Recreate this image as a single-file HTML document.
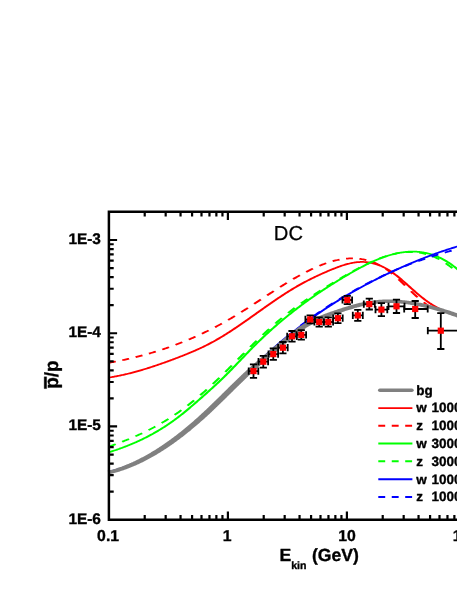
<!DOCTYPE html>
<html><head><meta charset="utf-8"><title>DC</title>
<style>html,body{margin:0;padding:0;background:#fff;}body{width:457px;height:591px;overflow:hidden;font-family:"Liberation Sans",sans-serif;}svg text{font-family:"Liberation Sans",sans-serif;}</style>
</head><body>
<svg width="457" height="591" viewBox="0 0 457 591" style="display:block;will-change:transform">
<rect width="457" height="591" fill="#fff"/>
<g fill="none" stroke-linejoin="round" stroke-width="1.75" transform="scale(1.4 1)">
<path d="M77.786 377.52 L78.432 377.38 L79.079 377.23 L79.725 377.09 L80.371 376.93 L81.018 376.78 L81.664 376.62 L82.311 376.45 L82.957 376.28 L83.604 376.11 L84.250 375.94 L84.897 375.76 L85.543 375.57 L86.189 375.38 L86.836 375.19 L87.482 375.00 L88.129 374.80 L88.775 374.59 L89.422 374.39 L90.068 374.18 L90.714 373.96 L91.361 373.74 L92.007 373.52 L92.654 373.30 L93.300 373.07 L93.947 372.84 L94.593 372.61 L95.240 372.37 L95.886 372.13 L96.532 371.89 L97.179 371.64 L97.825 371.39 L98.472 371.14 L99.118 370.88 L99.765 370.62 L100.411 370.36 L101.057 370.09 L101.704 369.83 L102.350 369.56 L102.997 369.28 L103.643 369.01 L104.290 368.73 L104.936 368.45 L105.583 368.16 L106.229 367.88 L106.875 367.59 L107.522 367.30 L108.168 367.01 L108.815 366.71 L109.461 366.41 L110.108 366.11 L110.754 365.81 L111.400 365.50 L112.047 365.20 L112.693 364.89 L113.340 364.58 L113.986 364.27 L114.633 363.95 L115.279 363.63 L115.926 363.31 L116.572 362.99 L117.218 362.67 L117.865 362.35 L118.511 362.02 L119.158 361.69 L119.804 361.36 L120.451 361.03 L121.097 360.70 L121.743 360.37 L122.390 360.03 L123.036 359.70 L123.683 359.36 L124.329 359.02 L124.976 358.68 L125.622 358.34 L126.269 357.99 L126.915 357.65 L127.561 357.30 L128.208 356.95 L128.854 356.60 L129.501 356.25 L130.147 355.90 L130.794 355.54 L131.440 355.18 L132.086 354.82 L132.733 354.46 L133.379 354.09 L134.026 353.73 L134.672 353.35 L135.319 352.98 L135.965 352.60 L136.612 352.22 L137.258 351.84 L137.904 351.45 L138.551 351.06 L139.197 350.67 L139.844 350.27 L140.490 349.86 L141.137 349.46 L141.783 349.05 L142.429 348.63 L143.076 348.21 L143.722 347.79 L144.369 347.36 L145.015 346.93 L145.662 346.49 L146.308 346.05 L146.955 345.60 L147.601 345.15 L148.247 344.69 L148.894 344.23 L149.540 343.76 L150.187 343.29 L150.833 342.81 L151.480 342.32 L152.126 341.83 L152.772 341.33 L153.419 340.83 L154.065 340.32 L154.712 339.81 L155.358 339.29 L156.005 338.76 L156.651 338.23 L157.298 337.69 L157.944 337.15 L158.590 336.60 L159.237 336.05 L159.883 335.49 L160.530 334.93 L161.176 334.37 L161.823 333.80 L162.469 333.22 L163.115 332.65 L163.762 332.06 L164.408 331.48 L165.055 330.89 L165.701 330.30 L166.348 329.70 L166.994 329.10 L167.641 328.50 L168.287 327.89 L168.933 327.28 L169.580 326.67 L170.226 326.06 L170.873 325.44 L171.519 324.82 L172.166 324.20 L172.812 323.57 L173.458 322.95 L174.105 322.32 L174.751 321.69 L175.398 321.06 L176.044 320.42 L176.691 319.79 L177.337 319.15 L177.984 318.51 L178.630 317.88 L179.276 317.24 L179.923 316.60 L180.569 315.95 L181.216 315.31 L181.862 314.67 L182.509 314.03 L183.155 313.39 L183.801 312.74 L184.448 312.10 L185.094 311.46 L185.741 310.82 L186.387 310.18 L187.034 309.53 L187.680 308.89 L188.327 308.25 L188.973 307.62 L189.619 306.98 L190.266 306.34 L190.912 305.71 L191.559 305.07 L192.205 304.44 L192.852 303.81 L193.498 303.18 L194.144 302.55 L194.791 301.93 L195.437 301.31 L196.084 300.69 L196.730 300.07 L197.377 299.45 L198.023 298.84 L198.670 298.23 L199.316 297.62 L199.962 297.02 L200.609 296.42 L201.255 295.82 L201.902 295.23 L202.548 294.64 L203.195 294.05 L203.841 293.47 L204.487 292.89 L205.134 292.31 L205.780 291.74 L206.427 291.18 L207.073 290.62 L207.720 290.06 L208.366 289.50 L209.013 288.96 L209.659 288.41 L210.305 287.88 L210.952 287.34 L211.598 286.82 L212.245 286.29 L212.891 285.78 L213.538 285.26 L214.184 284.75 L214.830 284.25 L215.477 283.75 L216.123 283.26 L216.770 282.77 L217.416 282.29 L218.063 281.81 L218.709 281.33 L219.356 280.86 L220.002 280.39 L220.648 279.93 L221.295 279.47 L221.941 279.02 L222.588 278.57 L223.234 278.13 L223.881 277.68 L224.527 277.25 L225.173 276.81 L225.820 276.38 L226.466 275.96 L227.113 275.53 L227.759 275.11 L228.406 274.70 L229.052 274.29 L229.699 273.88 L230.345 273.47 L230.991 273.07 L231.638 272.67 L232.284 272.28 L232.931 271.89 L233.577 271.50 L234.224 271.11 L234.870 270.73 L235.516 270.35 L236.163 269.98 L236.809 269.60 L237.456 269.23 L238.102 268.87 L238.749 268.50 L239.395 268.15 L240.042 267.80 L240.688 267.45 L241.334 267.11 L241.981 266.78 L242.627 266.46 L243.274 266.14 L243.920 265.83 L244.567 265.53 L245.213 265.24 L245.859 264.95 L246.506 264.68 L247.152 264.42 L247.799 264.17 L248.445 263.93 L249.092 263.70 L249.738 263.48 L250.385 263.28 L251.031 263.08 L251.677 262.91 L252.324 262.74 L252.970 262.59 L253.617 262.46 L254.263 262.33 L254.910 262.23 L255.556 262.14 L256.202 262.07 L256.849 262.01 L257.495 261.98 L258.142 261.95 L258.788 261.95 L259.435 261.97 L260.081 262.00 L260.728 262.05 L261.374 262.12 L262.020 262.21 L262.667 262.31 L263.313 262.43 L263.960 262.57 L264.606 262.73 L265.253 262.91 L265.899 263.11 L266.545 263.33 L267.192 263.56 L267.838 263.81 L268.485 264.09 L269.131 264.38 L269.778 264.69 L270.424 265.02 L271.071 265.37 L271.717 265.74 L272.363 266.12 L273.010 266.53 L273.656 266.96 L274.303 267.40 L274.949 267.87 L275.596 268.36 L276.242 268.86 L276.888 269.39 L277.535 269.94 L278.181 270.50 L278.828 271.09 L279.474 271.70 L280.121 272.32 L280.767 272.97 L281.414 273.63 L282.060 274.31 L282.706 275.00 L283.353 275.71 L283.999 276.43 L284.646 277.16 L285.292 277.90 L285.939 278.66 L286.585 279.42 L287.231 280.19 L287.878 280.98 L288.524 281.76 L289.171 282.56 L289.817 283.35 L290.464 284.16 L291.110 284.96 L291.757 285.77 L292.403 286.58 L293.049 287.38 L293.696 288.19 L294.342 289.00 L294.989 289.80 L295.635 290.60 L296.282 291.39 L296.928 292.18 L297.574 292.97 L298.221 293.74 L298.867 294.51 L299.514 295.27 L300.160 296.01 L300.807 296.75 L301.453 297.48 L302.100 298.19 L302.746 298.89 L303.392 299.58 L304.039 300.26 L304.685 300.92 L305.332 301.57 L305.978 302.20 L306.625 302.82 L307.271 303.41 L307.917 304.00 L308.564 304.57 L309.210 305.12 L309.857 305.66 L310.503 306.19 L311.150 306.70 L311.796 307.20 L312.443 307.70 L313.089 308.21 L313.735 308.72 L314.382 309.22 L315.028 309.69 L315.675 310.12 L316.321 310.51 L316.968 310.86 L317.614 311.19 L318.260 311.49 L318.907 311.78 L319.553 312.06 L320.200 312.35 L320.846 312.65 L321.493 312.95 L322.139 313.25 L322.786 313.56 L323.432 313.86 L324.078 314.17 L324.725 314.49 L325.371 314.80 L326.018 315.11 L326.664 315.43 L327.311 315.75 L327.957 316.07 L328.603 316.40 L329.250 316.72 L329.896 317.05 L330.543 317.38 L331.189 317.71 L331.836 318.04 L332.482 318.37 L333.129 318.71 L333.775 319.04 L334.421 319.38 L335.068 319.72 L335.714 320.06" stroke="#ff0000"/>
<path d="M77.786 362.80 L78.488 362.62 L79.190 362.45 L79.893 362.27 L80.595 362.09 L81.297 361.90 L81.999 361.72 L82.701 361.53M87.329 360.22 L88.030 360.01 L88.732 359.80 L89.433 359.59 L90.135 359.37 L90.836 359.16 L91.537 358.94 L92.238 358.71M96.860 357.17 L97.561 356.92 L98.261 356.68 L98.962 356.43 L99.662 356.17 L100.363 355.92 L101.063 355.66 L101.763 355.40M106.377 353.60 L107.077 353.32 L107.776 353.04 L108.475 352.75 L109.174 352.45 L109.873 352.16 L110.572 351.86 L111.271 351.56M115.877 349.50 L116.575 349.18 L117.272 348.85 L117.970 348.52 L118.668 348.19 L119.365 347.85 L120.063 347.51 L120.760 347.17M125.354 344.83 L126.051 344.47 L126.747 344.10 L127.443 343.72 L128.139 343.35 L128.834 342.97 L129.530 342.59 L130.225 342.20M134.807 339.57 L135.501 339.16 L136.195 338.75 L136.889 338.33 L137.583 337.91 L138.276 337.48 L138.970 337.05 L139.663 336.62M144.230 333.69 L144.922 333.24 L145.613 332.77 L146.305 332.31 L146.996 331.84 L147.687 331.37 L148.378 330.90 L149.069 330.42M153.618 327.17 L154.307 326.67 L154.996 326.16 L155.685 325.65 L156.373 325.13 L157.061 324.61 L157.749 324.09 L158.437 323.56M162.967 320.00 L163.653 319.44 L164.339 318.88 L165.024 318.32 L165.710 317.76 L166.395 317.19 L167.079 316.61 L167.764 316.04M172.273 312.16 L172.956 311.56 L173.638 310.96 L174.321 310.36 L175.004 309.75 L175.686 309.14 L176.368 308.53 L177.050 307.92M181.545 303.85 L182.227 303.23 L182.908 302.61 L183.589 301.99 L184.270 301.37 L184.951 300.74 L185.633 300.12 L186.314 299.49M190.805 295.38 L191.487 294.76 L192.168 294.14 L192.849 293.52 L193.531 292.90 L194.212 292.28 L194.894 291.66 L195.576 291.05M200.075 287.03 L200.758 286.43 L201.441 285.83 L202.124 285.24 L202.807 284.64 L203.491 284.05 L204.175 283.46 L204.858 282.88M209.375 279.11 L210.060 278.55 L210.746 278.00 L211.433 277.45 L212.120 276.90 L212.806 276.36 L213.494 275.83 L214.181 275.30M218.723 271.92 L219.413 271.43 L220.103 270.95 L220.794 270.47 L221.485 270.00 L222.176 269.53 L222.868 269.07 L223.560 268.62M228.133 265.81 L228.828 265.41 L229.523 265.02 L230.219 264.64 L230.915 264.27 L231.611 263.91 L232.308 263.56 L233.005 263.22M237.613 261.21 L238.313 260.94 L239.013 260.69 L239.714 260.45 L240.415 260.22 L241.116 260.01 L241.818 259.80 L242.520 259.61M247.155 258.69 L247.858 258.60 L248.562 258.52 L249.266 258.47 L249.970 258.42 L250.674 258.39 L251.378 258.38 L252.082 258.38M256.723 258.81 L257.426 258.94 L258.129 259.08 L258.832 259.25 L259.534 259.43 L260.236 259.63 L260.937 259.84 L261.638 260.08M266.244 262.10 L266.940 262.48 L267.635 262.88 L268.329 263.29 L269.021 263.73 L269.713 264.19 L270.404 264.66 L271.094 265.16M275.609 268.93 L276.289 269.58 L276.966 270.25 L277.642 270.94 L278.317 271.64 L278.989 272.37 L279.660 273.12 L280.330 273.88M284.709 279.28 L285.368 280.14 L286.027 281.01 L286.686 281.89 L287.343 282.77 L288.000 283.65 L288.657 284.54 L289.314 285.43M293.643 291.30 L294.301 292.17 L294.960 293.04 L295.619 293.91 L296.280 294.76 L296.941 295.61 L297.604 296.44 L298.267 297.27M302.680 302.32 L303.354 303.03 L304.026 303.76 L304.699 304.48 L305.376 305.16 L306.057 305.79 L306.743 306.34 L307.433 306.83M312.038 308.85 L312.738 309.12 L313.437 309.41 L314.137 309.70 L314.836 309.99 L315.535 310.29 L316.233 310.59 L316.932 310.89M321.537 312.97 L322.235 313.30 L322.932 313.63 L323.630 313.96 L324.328 314.29 L325.025 314.63 L325.722 314.97 L326.420 315.31M331.016 317.62 L331.687 317.96 L332.358 318.31 L333.030 318.66 L333.701 319.00 L334.372 319.35 L335.043 319.71 L335.714 320.06" stroke="#ff0000"/>
<path d="M77.786 452.28 L78.432 452.00 L79.079 451.71 L79.725 451.42 L80.371 451.13 L81.018 450.83 L81.664 450.53 L82.311 450.23 L82.957 449.92 L83.604 449.61 L84.250 449.29 L84.897 448.98 L85.543 448.65 L86.189 448.33 L86.836 448.00 L87.482 447.66 L88.129 447.33 L88.775 446.99 L89.422 446.64 L90.068 446.29 L90.714 445.94 L91.361 445.58 L92.007 445.21 L92.654 444.85 L93.300 444.48 L93.947 444.10 L94.593 443.72 L95.240 443.33 L95.886 442.94 L96.532 442.55 L97.179 442.15 L97.825 441.75 L98.472 441.34 L99.118 440.92 L99.765 440.50 L100.411 440.08 L101.057 439.65 L101.704 439.21 L102.350 438.77 L102.997 438.33 L103.643 437.88 L104.290 437.42 L104.936 436.96 L105.583 436.49 L106.229 436.02 L106.875 435.54 L107.522 435.06 L108.168 434.57 L108.815 434.07 L109.461 433.57 L110.108 433.06 L110.754 432.55 L111.400 432.03 L112.047 431.50 L112.693 430.97 L113.340 430.43 L113.986 429.89 L114.633 429.34 L115.279 428.78 L115.926 428.21 L116.572 427.64 L117.218 427.07 L117.865 426.48 L118.511 425.89 L119.158 425.29 L119.804 424.69 L120.451 424.08 L121.097 423.46 L121.743 422.84 L122.390 422.20 L123.036 421.56 L123.683 420.92 L124.329 420.26 L124.976 419.60 L125.622 418.93 L126.269 418.26 L126.915 417.58 L127.561 416.88 L128.208 416.19 L128.854 415.48 L129.501 414.77 L130.147 414.05 L130.794 413.32 L131.440 412.59 L132.086 411.85 L132.733 411.11 L133.379 410.36 L134.026 409.60 L134.672 408.84 L135.319 408.08 L135.965 407.31 L136.612 406.54 L137.258 405.76 L137.904 404.99 L138.551 404.20 L139.197 403.42 L139.844 402.63 L140.490 401.84 L141.137 401.05 L141.783 400.26 L142.429 399.47 L143.076 398.67 L143.722 397.88 L144.369 397.08 L145.015 396.28 L145.662 395.48 L146.308 394.68 L146.955 393.88 L147.601 393.08 L148.247 392.27 L148.894 391.46 L149.540 390.65 L150.187 389.83 L150.833 389.02 L151.480 388.20 L152.126 387.37 L152.772 386.54 L153.419 385.71 L154.065 384.88 L154.712 384.04 L155.358 383.19 L156.005 382.35 L156.651 381.49 L157.298 380.63 L157.944 379.77 L158.590 378.90 L159.237 378.03 L159.883 377.15 L160.530 376.26 L161.176 375.37 L161.823 374.48 L162.469 373.57 L163.115 372.66 L163.762 371.75 L164.408 370.83 L165.055 369.90 L165.701 368.97 L166.348 368.04 L166.994 367.10 L167.641 366.16 L168.287 365.22 L168.933 364.28 L169.580 363.33 L170.226 362.38 L170.873 361.43 L171.519 360.48 L172.166 359.54 L172.812 358.59 L173.458 357.64 L174.105 356.69 L174.751 355.74 L175.398 354.80 L176.044 353.86 L176.691 352.92 L177.337 351.98 L177.984 351.05 L178.630 350.12 L179.276 349.19 L179.923 348.27 L180.569 347.36 L181.216 346.45 L181.862 345.54 L182.509 344.64 L183.155 343.75 L183.801 342.86 L184.448 341.98 L185.094 341.10 L185.741 340.22 L186.387 339.36 L187.034 338.49 L187.680 337.63 L188.327 336.78 L188.973 335.93 L189.619 335.09 L190.266 334.25 L190.912 333.41 L191.559 332.59 L192.205 331.76 L192.852 330.94 L193.498 330.13 L194.144 329.32 L194.791 328.51 L195.437 327.71 L196.084 326.91 L196.730 326.12 L197.377 325.33 L198.023 324.55 L198.670 323.77 L199.316 323.00 L199.962 322.23 L200.609 321.47 L201.255 320.70 L201.902 319.95 L202.548 319.20 L203.195 318.45 L203.841 317.70 L204.487 316.96 L205.134 316.23 L205.780 315.50 L206.427 314.77 L207.073 314.05 L207.720 313.33 L208.366 312.61 L209.013 311.90 L209.659 311.19 L210.305 310.49 L210.952 309.79 L211.598 309.10 L212.245 308.40 L212.891 307.72 L213.538 307.03 L214.184 306.35 L214.830 305.67 L215.477 305.00 L216.123 304.33 L216.770 303.66 L217.416 303.00 L218.063 302.34 L218.709 301.69 L219.356 301.03 L220.002 300.39 L220.648 299.74 L221.295 299.10 L221.941 298.46 L222.588 297.82 L223.234 297.19 L223.881 296.56 L224.527 295.94 L225.173 295.31 L225.820 294.69 L226.466 294.08 L227.113 293.46 L227.759 292.85 L228.406 292.25 L229.052 291.64 L229.699 291.04 L230.345 290.44 L230.991 289.85 L231.638 289.25 L232.284 288.66 L232.931 288.08 L233.577 287.49 L234.224 286.91 L234.870 286.33 L235.516 285.75 L236.163 285.18 L236.809 284.61 L237.456 284.04 L238.102 283.47 L238.749 282.91 L239.395 282.35 L240.042 281.79 L240.688 281.23 L241.334 280.68 L241.981 280.13 L242.627 279.58 L243.274 279.03 L243.920 278.48 L244.567 277.94 L245.213 277.40 L245.859 276.86 L246.506 276.33 L247.152 275.79 L247.799 275.26 L248.445 274.73 L249.092 274.20 L249.738 273.68 L250.385 273.16 L251.031 272.64 L251.677 272.12 L252.324 271.61 L252.970 271.10 L253.617 270.59 L254.263 270.09 L254.910 269.59 L255.556 269.10 L256.202 268.61 L256.849 268.12 L257.495 267.64 L258.142 267.16 L258.788 266.69 L259.435 266.22 L260.081 265.75 L260.728 265.29 L261.374 264.84 L262.020 264.39 L262.667 263.95 L263.313 263.51 L263.960 263.08 L264.606 262.65 L265.253 262.23 L265.899 261.82 L266.545 261.41 L267.192 261.00 L267.838 260.61 L268.485 260.22 L269.131 259.84 L269.778 259.46 L270.424 259.09 L271.071 258.73 L271.717 258.38 L272.363 258.03 L273.010 257.69 L273.656 257.36 L274.303 257.04 L274.949 256.72 L275.596 256.41 L276.242 256.11 L276.888 255.82 L277.535 255.54 L278.181 255.26 L278.828 255.00 L279.474 254.74 L280.121 254.49 L280.767 254.25 L281.414 254.03 L282.060 253.81 L282.706 253.60 L283.353 253.39 L283.999 253.20 L284.646 253.02 L285.292 252.85 L285.939 252.69 L286.585 252.54 L287.231 252.40 L287.878 252.27 L288.524 252.16 L289.171 252.05 L289.817 251.95 L290.464 251.87 L291.110 251.79 L291.757 251.73 L292.403 251.68 L293.049 251.64 L293.696 251.61 L294.342 251.60 L294.989 251.60 L295.635 251.61 L296.282 251.63 L296.928 251.66 L297.574 251.71 L298.221 251.77 L298.867 251.84 L299.514 251.93 L300.160 252.03 L300.807 252.14 L301.453 252.27 L302.100 252.41 L302.746 252.56 L303.392 252.73 L304.039 252.91 L304.685 253.10 L305.332 253.31 L305.978 253.54 L306.625 253.78 L307.271 254.03 L307.917 254.30 L308.564 254.58 L309.210 254.88 L309.857 255.19 L310.503 255.52 L311.150 255.87 L311.796 256.23 L312.443 256.60 L313.089 257.00 L313.735 257.40 L314.382 257.83 L315.028 258.27 L315.675 258.73 L316.321 259.20 L316.968 259.69 L317.614 260.20 L318.260 260.72 L318.907 261.27 L319.553 261.82 L320.200 262.40 L320.846 262.99 L321.493 263.61 L322.139 264.24 L322.786 264.88 L323.432 265.55 L324.078 266.23 L324.725 266.94 L325.371 267.66 L326.018 268.40 L326.664 269.15 L327.311 269.93 L327.957 270.73 L328.603 271.54 L329.250 272.38 L329.896 273.23 L330.543 274.11 L331.189 275.00 L331.836 275.91 L332.482 276.85 L333.129 277.80 L333.775 278.77 L334.421 279.77 L335.068 280.78 L335.714 281.82" stroke="#00ff00"/>
<path d="M77.786 446.61 L78.483 446.27 L79.180 445.92 L79.877 445.58 L80.575 445.23 L81.271 444.88 L81.968 444.53 L82.665 444.17M87.256 441.76 L87.952 441.38 L88.648 441.00 L89.343 440.61 L90.038 440.22 L90.733 439.83 L91.428 439.44 L92.123 439.04M96.700 436.31 L97.393 435.88 L98.087 435.45 L98.779 435.01 L99.472 434.57 L100.165 434.12 L100.857 433.67 L101.549 433.22M106.106 430.11 L106.796 429.61 L107.485 429.12 L108.175 428.62 L108.864 428.11 L109.553 427.60 L110.241 427.09 L110.929 426.57M115.459 423.00 L116.145 422.44 L116.830 421.87 L117.515 421.30 L118.199 420.72 L118.883 420.14 L119.566 419.54 L120.250 418.95M124.743 414.86 L125.423 414.22 L126.102 413.57 L126.781 412.92 L127.459 412.26 L128.137 411.59 L128.814 410.91 L129.491 410.23M133.940 405.59 L134.613 404.87 L135.286 404.13 L135.957 403.40 L136.629 402.65 L137.299 401.90 L137.969 401.15 L138.639 400.39M143.042 395.23 L143.708 394.43 L144.374 393.63 L145.038 392.82 L145.703 392.00 L146.367 391.18 L147.030 390.35 L147.693 389.52M152.053 383.94 L152.713 383.08 L153.372 382.21 L154.031 381.34 L154.689 380.47 L155.347 379.59 L156.005 378.71 L156.662 377.83M160.988 371.93 L161.643 371.02 L162.297 370.11 L162.951 369.20 L163.605 368.29 L164.259 367.38 L164.913 366.46 L165.566 365.54M169.872 359.46 L170.524 358.54 L171.177 357.61 L171.830 356.69 L172.483 355.76 L173.136 354.84 L173.788 353.92 L174.442 353.00M178.753 346.97 L179.407 346.06 L180.063 345.16 L180.718 344.26 L181.374 343.36 L182.030 342.46 L182.686 341.57 L183.343 340.69M187.683 334.91 L188.342 334.05 L189.002 333.19 L189.663 332.34 L190.324 331.49 L190.985 330.64 L191.647 329.80 L192.309 328.96M196.685 323.54 L197.351 322.73 L198.017 321.93 L198.683 321.14 L199.350 320.35 L200.017 319.56 L200.685 318.78 L201.353 318.00M205.771 313.01 L206.443 312.27 L207.116 311.54 L207.788 310.82 L208.462 310.10 L209.136 309.38 L209.810 308.67 L210.485 307.97M214.947 303.48 L215.625 302.82 L216.304 302.16 L216.983 301.51 L217.662 300.86 L218.341 300.21 L219.021 299.57 L219.701 298.93M224.192 294.80 L224.873 294.19 L225.555 293.57 L226.237 292.96 L226.919 292.35 L227.601 291.74 L228.284 291.13 L228.966 290.52M233.470 286.58 L234.154 285.99 L234.838 285.40 L235.521 284.82 L236.205 284.23 L236.889 283.65 L237.574 283.07 L238.258 282.49M242.774 278.72 L243.460 278.15 L244.145 277.59 L244.831 277.03 L245.516 276.47 L246.202 275.91 L246.888 275.36 L247.574 274.80M252.103 271.22 L252.790 270.69 L253.478 270.16 L254.166 269.63 L254.854 269.11 L255.542 268.59 L256.231 268.08 L256.920 267.57M261.470 264.34 L262.161 263.87 L262.853 263.41 L263.545 262.95 L264.237 262.50 L264.930 262.06 L265.622 261.62 L266.316 261.19M270.896 258.55 L271.593 258.18 L272.289 257.81 L272.986 257.46 L273.683 257.12 L274.381 256.78 L275.079 256.46 L275.777 256.14M280.390 254.32 L281.091 254.09 L281.792 253.87 L282.494 253.65 L283.196 253.46 L283.898 253.27 L284.600 253.09 L285.303 252.93M289.940 252.19 L290.644 252.13 L291.348 252.09 L292.052 252.06 L292.756 252.04 L293.460 252.04 L294.164 252.06 L294.869 252.09M299.508 252.68 L300.211 252.84 L300.913 253.01 L301.615 253.19 L302.317 253.40 L303.018 253.62 L303.719 253.86 L304.419 254.11M309.021 256.26 L309.716 256.65 L310.410 257.07 L311.103 257.50 L311.795 257.95 L312.486 258.42 L313.176 258.91 L313.865 259.42M318.377 263.25 L319.055 263.91 L319.733 264.58 L320.409 265.27 L321.083 265.98 L321.755 266.71 L322.426 267.46 L323.095 268.23M327.459 273.77 L328.113 274.69 L328.765 275.61 L329.415 276.56 L330.062 277.53 L330.708 278.51 L331.351 279.52 L331.992 280.54" stroke="#00ff00"/>
<path d="M77.786 472.01 L78.432 471.77 L79.079 471.52 L79.725 471.27 L80.371 471.01 L81.018 470.75 L81.664 470.48 L82.311 470.20 L82.957 469.92 L83.604 469.64 L84.250 469.35 L84.897 469.05 L85.543 468.75 L86.189 468.45 L86.836 468.14 L87.482 467.82 L88.129 467.50 L88.775 467.17 L89.422 466.83 L90.068 466.49 L90.714 466.15 L91.361 465.80 L92.007 465.44 L92.654 465.08 L93.300 464.71 L93.947 464.34 L94.593 463.96 L95.240 463.57 L95.886 463.18 L96.532 462.79 L97.179 462.39 L97.825 461.98 L98.472 461.57 L99.118 461.15 L99.765 460.72 L100.411 460.29 L101.057 459.85 L101.704 459.41 L102.350 458.96 L102.997 458.51 L103.643 458.05 L104.290 457.58 L104.936 457.11 L105.583 456.63 L106.229 456.15 L106.875 455.66 L107.522 455.16 L108.168 454.66 L108.815 454.15 L109.461 453.64 L110.108 453.12 L110.754 452.59 L111.400 452.06 L112.047 451.52 L112.693 450.98 L113.340 450.43 L113.986 449.87 L114.633 449.31 L115.279 448.74 L115.926 448.16 L116.572 447.58 L117.218 446.99 L117.865 446.40 L118.511 445.79 L119.158 445.19 L119.804 444.57 L120.451 443.95 L121.097 443.33 L121.743 442.70 L122.390 442.06 L123.036 441.41 L123.683 440.76 L124.329 440.10 L124.976 439.44 L125.622 438.77 L126.269 438.09 L126.915 437.40 L127.561 436.71 L128.208 436.02 L128.854 435.31 L129.501 434.60 L130.147 433.88 L130.794 433.16 L131.440 432.43 L132.086 431.70 L132.733 430.96 L133.379 430.21 L134.026 429.46 L134.672 428.70 L135.319 427.94 L135.965 427.17 L136.612 426.40 L137.258 425.62 L137.904 424.84 L138.551 424.05 L139.197 423.26 L139.844 422.46 L140.490 421.66 L141.137 420.85 L141.783 420.04 L142.429 419.23 L143.076 418.41 L143.722 417.58 L144.369 416.76 L145.015 415.93 L145.662 415.09 L146.308 414.25 L146.955 413.41 L147.601 412.57 L148.247 411.72 L148.894 410.87 L149.540 410.01 L150.187 409.16 L150.833 408.30 L151.480 407.43 L152.126 406.57 L152.772 405.70 L153.419 404.83 L154.065 403.96 L154.712 403.08 L155.358 402.21 L156.005 401.33 L156.651 400.45 L157.298 399.56 L157.944 398.68 L158.590 397.79 L159.237 396.91 L159.883 396.02 L160.530 395.13 L161.176 394.24 L161.823 393.35 L162.469 392.45 L163.115 391.56 L163.762 390.67 L164.408 389.77 L165.055 388.88 L165.701 387.98 L166.348 387.09 L166.994 386.19 L167.641 385.29 L168.287 384.40 L168.933 383.50 L169.580 382.61 L170.226 381.71 L170.873 380.82 L171.519 379.93 L172.166 379.03 L172.812 378.14 L173.458 377.25 L174.105 376.36 L174.751 375.47 L175.398 374.58 L176.044 373.70 L176.691 372.81 L177.337 371.93 L177.984 371.04 L178.630 370.16 L179.276 369.29 L179.923 368.41 L180.569 367.54 L181.216 366.66 L181.862 365.80 L182.509 364.93 L183.155 364.06 L183.801 363.20 L184.448 362.34 L185.094 361.49 L185.741 360.63 L186.387 359.78 L187.034 358.93 L187.680 358.09 L188.327 357.24 L188.973 356.41 L189.619 355.57 L190.266 354.74 L190.912 353.91 L191.559 353.08 L192.205 352.26 L192.852 351.44 L193.498 350.63 L194.144 349.82 L194.791 349.01 L195.437 348.21 L196.084 347.41 L196.730 346.62 L197.377 345.82 L198.023 345.04 L198.670 344.26 L199.316 343.48 L199.962 342.71 L200.609 341.94 L201.255 341.18 L201.902 340.42 L202.548 339.66 L203.195 338.91 L203.841 338.16 L204.487 337.42 L205.134 336.68 L205.780 335.95 L206.427 335.22 L207.073 334.49 L207.720 333.77 L208.366 333.05 L209.013 332.34 L209.659 331.63 L210.305 330.92 L210.952 330.22 L211.598 329.52 L212.245 328.82 L212.891 328.13 L213.538 327.44 L214.184 326.76 L214.830 326.07 L215.477 325.40 L216.123 324.72 L216.770 324.05 L217.416 323.38 L218.063 322.72 L218.709 322.06 L219.356 321.40 L220.002 320.74 L220.648 320.09 L221.295 319.44 L221.941 318.80 L222.588 318.15 L223.234 317.51 L223.881 316.88 L224.527 316.24 L225.173 315.61 L225.820 314.98 L226.466 314.36 L227.113 313.73 L227.759 313.11 L228.406 312.50 L229.052 311.88 L229.699 311.27 L230.345 310.67 L230.991 310.06 L231.638 309.46 L232.284 308.86 L232.931 308.26 L233.577 307.67 L234.224 307.08 L234.870 306.49 L235.516 305.91 L236.163 305.32 L236.809 304.74 L237.456 304.17 L238.102 303.59 L238.749 303.02 L239.395 302.45 L240.042 301.89 L240.688 301.32 L241.334 300.76 L241.981 300.20 L242.627 299.65 L243.274 299.09 L243.920 298.54 L244.567 298.00 L245.213 297.45 L245.859 296.91 L246.506 296.37 L247.152 295.83 L247.799 295.30 L248.445 294.77 L249.092 294.24 L249.738 293.71 L250.385 293.19 L251.031 292.66 L251.677 292.14 L252.324 291.63 L252.970 291.11 L253.617 290.60 L254.263 290.09 L254.910 289.58 L255.556 289.08 L256.202 288.58 L256.849 288.08 L257.495 287.58 L258.142 287.08 L258.788 286.59 L259.435 286.10 L260.081 285.61 L260.728 285.13 L261.374 284.64 L262.020 284.16 L262.667 283.68 L263.313 283.21 L263.960 282.73 L264.606 282.26 L265.253 281.79 L265.899 281.32 L266.545 280.86 L267.192 280.40 L267.838 279.94 L268.485 279.48 L269.131 279.02 L269.778 278.57 L270.424 278.11 L271.071 277.66 L271.717 277.22 L272.363 276.77 L273.010 276.33 L273.656 275.89 L274.303 275.45 L274.949 275.01 L275.596 274.57 L276.242 274.14 L276.888 273.71 L277.535 273.28 L278.181 272.85 L278.828 272.43 L279.474 272.01 L280.121 271.59 L280.767 271.17 L281.414 270.75 L282.060 270.34 L282.706 269.92 L283.353 269.51 L283.999 269.10 L284.646 268.69 L285.292 268.29 L285.939 267.89 L286.585 267.48 L287.231 267.08 L287.878 266.69 L288.524 266.29 L289.171 265.90 L289.817 265.50 L290.464 265.11 L291.110 264.72 L291.757 264.34 L292.403 263.95 L293.049 263.57 L293.696 263.19 L294.342 262.81 L294.989 262.43 L295.635 262.05 L296.282 261.68 L296.928 261.31 L297.574 260.94 L298.221 260.57 L298.867 260.20 L299.514 259.84 L300.160 259.47 L300.807 259.11 L301.453 258.75 L302.100 258.40 L302.746 258.04 L303.392 257.69 L304.039 257.34 L304.685 256.99 L305.332 256.65 L305.978 256.30 L306.625 255.96 L307.271 255.62 L307.917 255.28 L308.564 254.95 L309.210 254.61 L309.857 254.28 L310.503 253.95 L311.150 253.63 L311.796 253.30 L312.443 252.98 L313.089 252.66 L313.735 252.34 L314.382 252.03 L315.028 251.72 L315.675 251.41 L316.321 251.10 L316.968 250.79 L317.614 250.49 L318.260 250.19 L318.907 249.89 L319.553 249.60 L320.200 249.31 L320.846 249.02 L321.493 248.73 L322.139 248.44 L322.786 248.16 L323.432 247.88 L324.078 247.60 L324.725 247.33 L325.371 247.06 L326.018 246.79 L326.664 246.52 L327.311 246.26 L327.957 246.00 L328.603 245.74 L329.250 245.48 L329.896 245.23 L330.543 244.98 L331.189 244.73 L331.836 244.49 L332.482 244.25 L333.129 244.01 L333.775 243.77 L334.421 243.54 L335.068 243.31 L335.714 243.09" stroke="#0000ff"/>
<path d="M77.786 471.92 L78.486 471.68 L79.187 471.42 L79.887 471.17 L80.587 470.90 L81.287 470.63 L81.986 470.35 L82.686 470.06M87.291 468.00 L87.988 467.67 L88.685 467.32 L89.382 466.97 L90.079 466.61 L90.775 466.24 L91.471 465.87 L92.167 465.49M96.746 462.80 L97.439 462.37 L98.132 461.93 L98.824 461.48 L99.516 461.03 L100.208 460.57 L100.899 460.10 L101.590 459.63M106.136 456.33 L106.824 455.81 L107.512 455.28 L108.199 454.74 L108.885 454.19 L109.572 453.64 L110.257 453.08 L110.943 452.52M115.450 448.62 L116.132 448.00 L116.813 447.38 L117.494 446.75 L118.174 446.12 L118.854 445.48 L119.533 444.83 L120.212 444.17M124.675 439.69 L125.350 438.99 L126.024 438.28 L126.698 437.57 L127.371 436.84 L128.043 436.11 L128.715 435.38 L129.387 434.64M133.802 429.61 L134.469 428.82 L135.136 428.04 L135.803 427.24 L136.469 426.44 L137.135 425.64 L137.800 424.84 L138.465 424.02M142.838 418.57 L143.500 417.73 L144.161 416.88 L144.822 416.03 L145.483 415.18 L146.143 414.33 L146.803 413.47 L147.463 412.61M151.806 406.86 L152.464 405.98 L153.121 405.10 L153.778 404.22 L154.435 403.33 L155.092 402.44 L155.749 401.55 L156.405 400.66M160.730 394.75 L161.386 393.85 L162.041 392.95 L162.697 392.05 L163.352 391.15 L164.007 390.25 L164.662 389.35 L165.317 388.44M169.638 382.49 L170.293 381.59 L170.948 380.69 L171.604 379.79 L172.259 378.89 L172.915 377.99 L173.570 377.09 L174.226 376.20M178.554 370.32 L179.211 369.43 L179.869 368.55 L180.526 367.66 L181.184 366.79 L181.842 365.91 L182.500 365.03 L183.158 364.16M187.506 358.46 L188.166 357.60 L188.827 356.75 L189.488 355.90 L190.149 355.05 L190.810 354.20 L191.472 353.36 L192.133 352.52M196.505 347.04 L197.169 346.22 L197.833 345.41 L198.497 344.59 L199.162 343.78 L199.827 342.97 L200.493 342.17 L201.159 341.36M205.556 336.15 L206.224 335.38 L206.893 334.60 L207.561 333.83 L208.230 333.06 L208.900 332.30 L209.569 331.54 L210.239 330.78M214.666 325.87 L215.338 325.14 L216.011 324.42 L216.684 323.70 L217.358 322.98 L218.032 322.27 L218.706 321.56 L219.381 320.85M223.837 316.30 L224.515 315.62 L225.192 314.95 L225.870 314.28 L226.548 313.62 L227.226 312.96 L227.905 312.31 L228.584 311.65M233.069 307.45 L233.750 306.83 L234.432 306.21 L235.113 305.59 L235.795 304.98 L236.477 304.37 L237.160 303.76 L237.843 303.16M242.350 299.27 L243.035 298.69 L243.719 298.11 L244.404 297.54 L245.089 296.97 L245.774 296.41 L246.460 295.84 L247.146 295.28M251.671 291.66 L252.359 291.12 L253.046 290.58 L253.733 290.05 L254.421 289.52 L255.108 288.99 L255.796 288.46 L256.484 287.94M261.024 284.54 L261.713 284.04 L262.403 283.53 L263.092 283.03 L263.782 282.53 L264.471 282.04 L265.161 281.55 L265.851 281.05M270.405 277.88 L271.096 277.41 L271.787 276.95 L272.479 276.48 L273.170 276.02 L273.862 275.56 L274.554 275.10 L275.246 274.65M279.813 271.73 L280.506 271.30 L281.200 270.87 L281.893 270.44 L282.587 270.02 L283.281 269.60 L283.975 269.19 L284.669 268.77M289.250 266.13 L289.945 265.74 L290.640 265.36 L291.336 264.97 L292.032 264.59 L292.728 264.22 L293.424 263.85 L294.120 263.48M298.714 261.13 L299.411 260.78 L300.108 260.44 L300.805 260.10 L301.503 259.76 L302.200 259.43 L302.898 259.10 L303.596 258.77M308.199 256.66 L308.898 256.35 L309.596 256.04 L310.295 255.73 L310.994 255.43 L311.692 255.12 L312.391 254.82 L313.090 254.52M317.700 252.59 L318.399 252.30 L319.099 252.01 L319.798 251.73 L320.497 251.45 L321.197 251.16 L321.896 250.88 L322.596 250.60M327.209 248.78 L327.909 248.51 L328.609 248.23 L329.309 247.96 L330.008 247.69 L330.708 247.42 L331.408 247.15 L332.108 246.87" stroke="#0000ff"/>
</g>
<g fill="none" stroke-linejoin="round" transform="scale(2.0 1)">
<path d="M54.450 472.45 L54.903 472.23 L55.355 472.00 L55.808 471.76 L56.260 471.52 L56.713 471.27 L57.165 471.01 L57.618 470.75 L58.070 470.47 L58.523 470.20 L58.975 469.91 L59.428 469.62 L59.880 469.32 L60.333 469.02 L60.785 468.71 L61.238 468.39 L61.690 468.07 L62.143 467.73 L62.595 467.40 L63.048 467.05 L63.500 466.70 L63.953 466.34 L64.405 465.98 L64.858 465.61 L65.310 465.23 L65.763 464.85 L66.215 464.46 L66.668 464.07 L67.120 463.66 L67.573 463.26 L68.025 462.84 L68.478 462.42 L68.930 461.99 L69.383 461.56 L69.835 461.12 L70.288 460.67 L70.740 460.22 L71.193 459.76 L71.645 459.30 L72.098 458.83 L72.550 458.35 L73.003 457.87 L73.455 457.38 L73.908 456.88 L74.360 456.38 L74.813 455.88 L75.265 455.36 L75.718 454.85 L76.170 454.32 L76.623 453.79 L77.075 453.25 L77.528 452.71 L77.980 452.16 L78.433 451.61 L78.885 451.05 L79.338 450.48 L79.790 449.91 L80.243 449.33 L80.695 448.75 L81.148 448.16 L81.600 447.57 L82.053 446.97 L82.505 446.36 L82.958 445.75 L83.410 445.14 L83.863 444.51 L84.315 443.89 L84.768 443.25 L85.220 442.61 L85.673 441.97 L86.125 441.32 L86.578 440.66 L87.030 440.00 L87.483 439.34 L87.935 438.67 L88.388 437.99 L88.840 437.31 L89.293 436.62 L89.745 435.93 L90.198 435.23 L90.651 434.52 L91.103 433.82 L91.556 433.10 L92.008 432.38 L92.461 431.66 L92.913 430.93 L93.366 430.20 L93.818 429.46 L94.271 428.71 L94.723 427.96 L95.176 427.21 L95.628 426.45 L96.081 425.68 L96.533 424.91 L96.986 424.14 L97.438 423.36 L97.891 422.58 L98.343 421.79 L98.796 420.99 L99.248 420.19 L99.701 419.39 L100.153 418.58 L100.606 417.77 L101.058 416.95 L101.511 416.13 L101.963 415.30 L102.416 414.47 L102.868 413.63 L103.321 412.79 L103.773 411.94 L104.226 411.09 L104.678 410.24 L105.131 409.38 L105.583 408.52 L106.036 407.66 L106.488 406.79 L106.941 405.92 L107.393 405.04 L107.846 404.17 L108.298 403.29 L108.751 402.41 L109.203 401.53 L109.656 400.64 L110.108 399.76 L110.561 398.87 L111.013 397.98 L111.466 397.09 L111.918 396.20 L112.371 395.31 L112.823 394.41 L113.276 393.52 L113.728 392.63 L114.181 391.74 L114.633 390.84 L115.086 389.95 L115.538 389.06 L115.991 388.17 L116.443 387.28 L116.896 386.39 L117.348 385.51 L117.801 384.62 L118.253 383.74 L118.706 382.86 L119.158 381.98 L119.611 381.10 L120.063 380.22 L120.516 379.35 L120.968 378.48 L121.421 377.62 L121.873 376.76 L122.326 375.90 L122.778 375.04 L123.231 374.19 L123.683 373.34 L124.136 372.50 L124.588 371.66 L125.041 370.83 L125.493 370.00 L125.946 369.18 L126.398 368.36 L126.851 367.54 L127.304 366.74 L127.756 365.93 L128.209 365.13 L128.661 364.34 L129.114 363.55 L129.566 362.76 L130.019 361.98 L130.471 361.20 L130.924 360.42 L131.376 359.65 L131.829 358.88 L132.281 358.11 L132.734 357.34 L133.186 356.58 L133.639 355.82 L134.091 355.06 L134.544 354.30 L134.996 353.54 L135.449 352.78 L135.901 352.02 L136.354 351.27 L136.806 350.51 L137.259 349.76 L137.711 349.00 L138.164 348.24 L138.616 347.48 L139.069 346.73 L139.521 345.97 L139.974 345.21 L140.426 344.44 L140.879 343.68 L141.331 342.92 L141.784 342.16 L142.236 341.40 L142.689 340.64 L143.141 339.89 L143.594 339.14 L144.046 338.39 L144.499 337.65 L144.951 336.91 L145.404 336.18 L145.856 335.45 L146.309 334.73 L146.761 334.02 L147.214 333.31 L147.666 332.61 L148.119 331.93 L148.571 331.25 L149.024 330.58 L149.476 329.92 L149.929 329.27 L150.381 328.63 L150.834 328.01 L151.286 327.39 L151.739 326.79 L152.191 326.21 L152.644 325.64 L153.096 325.08 L153.549 324.54 L154.001 324.01 L154.454 323.49 L154.906 322.98 L155.359 322.49 L155.811 322.01 L156.264 321.54 L156.716 321.09 L157.169 320.64 L157.621 320.20 L158.074 319.78 L158.526 319.36 L158.979 318.95 L159.431 318.55 L159.884 318.15 L160.336 317.77 L160.789 317.39 L161.241 317.02 L161.694 316.65 L162.146 316.29 L162.599 315.94 L163.052 315.59 L163.504 315.25 L163.957 314.91 L164.409 314.57 L164.862 314.24 L165.314 313.92 L165.767 313.60 L166.219 313.28 L166.672 312.96 L167.124 312.65 L167.577 312.34 L168.029 312.03 L168.482 311.73 L168.934 311.42 L169.387 311.12 L169.839 310.82 L170.292 310.52 L170.744 310.22 L171.197 309.93 L171.649 309.63 L172.102 309.34 L172.554 309.05 L173.007 308.76 L173.459 308.48 L173.912 308.20 L174.364 307.92 L174.817 307.64 L175.269 307.37 L175.722 307.11 L176.174 306.84 L176.627 306.58 L177.079 306.33 L177.532 306.08 L177.984 305.83 L178.437 305.59 L178.889 305.35 L179.342 305.12 L179.794 304.90 L180.247 304.68 L180.699 304.47 L181.152 304.26 L181.604 304.06 L182.057 303.86 L182.509 303.67 L182.962 303.49 L183.414 303.31 L183.867 303.14 L184.319 302.98 L184.772 302.83 L185.224 302.68 L185.677 302.54 L186.129 302.40 L186.582 302.28 L187.034 302.16 L187.487 302.05 L187.939 301.95 L188.392 301.85 L188.844 301.76 L189.297 301.68 L189.749 301.61 L190.202 301.54 L190.654 301.48 L191.107 301.42 L191.559 301.38 L192.012 301.34 L192.464 301.31 L192.917 301.28 L193.369 301.26 L193.822 301.25 L194.274 301.24 L194.727 301.24 L195.179 301.25 L195.632 301.26 L196.084 301.28 L196.537 301.31 L196.989 301.34 L197.442 301.38 L197.894 301.42 L198.347 301.47 L198.799 301.53 L199.252 301.59 L199.705 301.66 L200.157 301.73 L200.610 301.81 L201.062 301.90 L201.515 301.99 L201.967 302.08 L202.420 302.19 L202.872 302.29 L203.325 302.41 L203.777 302.52 L204.230 302.65 L204.682 302.78 L205.135 302.91 L205.587 303.05 L206.040 303.19 L206.492 303.34 L206.945 303.49 L207.397 303.65 L207.850 303.81 L208.302 303.98 L208.755 304.15 L209.207 304.33 L209.660 304.51 L210.112 304.70 L210.565 304.89 L211.017 305.08 L211.470 305.28 L211.922 305.49 L212.375 305.69 L212.827 305.91 L213.280 306.12 L213.732 306.34 L214.185 306.56 L214.637 306.79 L215.090 307.02 L215.542 307.26 L215.995 307.50 L216.447 307.74 L216.900 307.98 L217.352 308.23 L217.805 308.49 L218.257 308.74 L218.710 309.00 L219.162 309.26 L219.615 309.53 L220.067 309.80 L220.520 310.07 L220.972 310.35 L221.425 310.63 L221.877 310.91 L222.330 311.19 L222.782 311.48 L223.235 311.77 L223.687 312.06 L224.140 312.35 L224.592 312.65 L225.045 312.95 L225.497 313.25 L225.950 313.56 L226.402 313.86 L226.855 314.17 L227.307 314.49 L227.760 314.80 L228.212 315.11 L228.665 315.43 L229.117 315.75 L229.570 316.07 L230.022 316.40 L230.475 316.72 L230.927 317.05 L231.380 317.38 L231.832 317.71 L232.285 318.04 L232.737 318.37 L233.190 318.71 L233.642 319.04 L234.095 319.38 L234.547 319.72 L235.000 320.06" stroke="#808080" stroke-width="3.53"/>
</g>
<g stroke="#000" stroke-width="1.8" fill="none">
<path d="M248.7 371.1H258.3M253.5 364.4V377.8M249.9 364.4h7.2M249.9 377.8h7.2M248.7 367.5v7.2M258.3 367.5v7.2"/>
<path d="M258.5 361.7H268.1M263.3 355.8V367.6M259.7 355.8h7.2M259.7 367.6h7.2M258.5 358.1v7.2M268.1 358.1v7.2"/>
<path d="M268.5 354.1H278.1M273.3 348.4V359.8M269.7 348.4h7.2M269.7 359.8h7.2M268.5 350.5v7.2M278.1 350.5v7.2"/>
<path d="M278.1 347.7H287.7M282.9 342.0V353.4M279.3 342.0h7.2M279.3 353.4h7.2M278.1 344.1v7.2M287.7 344.1v7.2"/>
<path d="M287.2 336.3H296.8M292.0 331.0V341.6M288.4 331.0h7.2M288.4 341.6h7.2M287.2 332.7v7.2M296.8 332.7v7.2"/>
<path d="M296.5 334.9H306.1M301.3 330.1V339.7M297.7 330.1h7.2M297.7 339.7h7.2M296.5 331.3v7.2M306.1 331.3v7.2"/>
<path d="M305.4 319.4H315.0M310.2 315.4V323.4M306.6 315.4h7.2M306.6 323.4h7.2M305.4 315.8v7.2M315.0 315.8v7.2"/>
<path d="M314.4 322.0H324.0M319.2 317.4V326.6M315.6 317.4h7.2M315.6 326.6h7.2M314.4 318.4v7.2M324.0 318.4v7.2"/>
<path d="M323.5 322.0H333.1M328.3 317.4V326.6M324.7 317.4h7.2M324.7 326.6h7.2M323.5 318.4v7.2M333.1 318.4v7.2"/>
<path d="M333.1 318.2H342.7M337.9 313.3V323.1M334.3 313.3h7.2M334.3 323.1h7.2M333.1 314.6v7.2M342.7 314.6v7.2"/>
<path d="M342.5 300.0H352.1M347.3 295.8V304.2M343.7 295.8h7.2M343.7 304.2h7.2M342.5 296.4v7.2M352.1 296.4v7.2"/>
<path d="M352.8 315.4H362.8M357.8 309.9V320.9M354.2 309.9h7.2M354.2 320.9h7.2M352.8 311.8v7.2M362.8 311.8v7.2"/>
<path d="M363.8 304.1H374.8M369.3 298.7V309.5M365.7 298.7h7.2M365.7 309.5h7.2M363.8 300.5v7.2M374.8 300.5v7.2"/>
<path d="M375.5 309.6H387.3M381.4 303.1V316.1M377.8 303.1h7.2M377.8 316.1h7.2M375.5 306.0v7.2M387.3 306.0v7.2"/>
<path d="M388.5 306.3H404.5M396.5 299.6V313.0M392.9 299.6h7.2M392.9 313.0h7.2M388.5 302.7v7.2M404.5 302.7v7.2"/>
<path d="M404.2 309.0H427.7M415.2 301.0V318.0M411.6 301.0h7.2M411.6 318.0h7.2M404.2 305.4v7.2M427.7 305.4v7.2"/>
<path d="M427.8 330.7H470.8M440.8 313.2V349.0M437.2 313.2h7.2M437.2 349.0h7.2M427.8 327.1v7.2M470.8 327.1v7.2"/>
</g>
<g fill="#ff0000">
<rect x="250.4" y="368.0" width="6.2" height="6.2"/>
<rect x="260.2" y="358.6" width="6.2" height="6.2"/>
<rect x="270.2" y="351.0" width="6.2" height="6.2"/>
<rect x="279.8" y="344.6" width="6.2" height="6.2"/>
<rect x="288.9" y="333.2" width="6.2" height="6.2"/>
<rect x="298.2" y="331.8" width="6.2" height="6.2"/>
<rect x="307.1" y="316.3" width="6.2" height="6.2"/>
<rect x="316.1" y="318.9" width="6.2" height="6.2"/>
<rect x="325.2" y="318.9" width="6.2" height="6.2"/>
<rect x="334.8" y="315.1" width="6.2" height="6.2"/>
<rect x="344.2" y="296.9" width="6.2" height="6.2"/>
<rect x="354.7" y="312.3" width="6.2" height="6.2"/>
<rect x="366.2" y="301.0" width="6.2" height="6.2"/>
<rect x="378.3" y="306.5" width="6.2" height="6.2"/>
<rect x="393.4" y="303.2" width="6.2" height="6.2"/>
<rect x="412.1" y="305.9" width="6.2" height="6.2"/>
<rect x="437.7" y="327.6" width="6.2" height="6.2"/>
</g>
<g stroke="#000" stroke-width="2.5" fill="none" stroke-linecap="butt">
<path d="M470 211.8H108.9V519.7H470"/>
</g>
<g stroke="#000" stroke-width="2.2" fill="none">
<path d="M144.72 519.7v-4.6M144.72 211.8v4.6M165.68 519.7v-4.6M165.68 211.8v4.6M180.55 519.7v-4.6M180.55 211.8v4.6M192.08 519.7v-4.6M192.08 211.8v4.6M201.50 519.7v-4.6M201.50 211.8v4.6M209.47 519.7v-4.6M209.47 211.8v4.6M216.37 519.7v-4.6M216.37 211.8v4.6M222.45 519.7v-4.6M222.45 211.8v4.6M227.90 519.7v-8.2M227.90 211.8v8.2M263.72 519.7v-4.6M263.72 211.8v4.6M284.68 519.7v-4.6M284.68 211.8v4.6M299.55 519.7v-4.6M299.55 211.8v4.6M311.08 519.7v-4.6M311.08 211.8v4.6M320.50 519.7v-4.6M320.50 211.8v4.6M328.47 519.7v-4.6M328.47 211.8v4.6M335.37 519.7v-4.6M335.37 211.8v4.6M341.45 519.7v-4.6M341.45 211.8v4.6M346.90 519.7v-8.2M346.90 211.8v8.2M382.72 519.7v-4.6M382.72 211.8v4.6M403.68 519.7v-4.6M403.68 211.8v4.6M418.55 519.7v-4.6M418.55 211.8v4.6M430.08 519.7v-4.6M430.08 211.8v4.6M439.50 519.7v-4.6M439.50 211.8v4.6M447.47 519.7v-4.6M447.47 211.8v4.6M454.37 519.7v-4.6M454.37 211.8v4.6M460.45 519.7v-4.6M460.45 211.8v4.6M465.90 519.7v-8.2M465.90 211.8v8.2M108.9 491.62h4.8M108.9 475.21h4.8M108.9 463.56h4.8M108.9 454.53h4.8M108.9 447.14h4.8M108.9 440.90h4.8M108.9 435.49h4.8M108.9 430.73h4.8M108.9 426.46h8.2M108.9 398.39h4.8M108.9 381.98h4.8M108.9 370.33h4.8M108.9 361.30h4.8M108.9 353.91h4.8M108.9 347.67h4.8M108.9 342.26h4.8M108.9 337.50h4.8M108.9 333.23h8.2M108.9 305.16h4.8M108.9 288.75h4.8M108.9 277.10h4.8M108.9 268.07h4.8M108.9 260.68h4.8M108.9 254.44h4.8M108.9 249.03h4.8M108.9 244.27h4.8M108.9 240.00h8.2"/>
</g>
<g fill="none">
<path d="M379.8 390.3H411.9" stroke="#808080" stroke-width="3.6" stroke-linecap="round"/>
<path d="M378.3 408.1H412.4" stroke="#ff0000" stroke-width="1.9"/>
<path d="M378.3 425.7H412.4" stroke="#ff0000" stroke-width="1.9" stroke-dasharray="6.9 6.55"/>
<path d="M378.3 443.5H412.4" stroke="#00ff00" stroke-width="1.9"/>
<path d="M378.3 461.2H412.4" stroke="#00ff00" stroke-width="1.9" stroke-dasharray="6.9 6.55"/>
<path d="M378.3 479.3H412.4" stroke="#0000ff" stroke-width="1.9"/>
<path d="M378.3 497.0H412.4" stroke="#0000ff" stroke-width="1.9" stroke-dasharray="6.9 6.55"/>
</g>
<g font-weight="bold" fill="#000" stroke="#000" stroke-width="0.35" stroke-linejoin="round" text-rendering="geometricPrecision">
<text x="416.3" y="394.6" font-size="13.5">bg</text>
<text x="416.3" y="412.4" font-size="13.5">w</text>
<text x="431.6" y="412.4" font-size="13.5">1000</text>
<text x="416.3" y="430.0" font-size="13.5">z</text>
<text x="431.6" y="430.0" font-size="13.5">1000</text>
<text x="416.3" y="447.8" font-size="13.5">w</text>
<text x="431.6" y="447.8" font-size="13.5">3000</text>
<text x="416.3" y="465.5" font-size="13.5">z</text>
<text x="431.6" y="465.5" font-size="13.5">3000</text>
<text x="416.3" y="483.6" font-size="13.5">w</text>
<text x="431.6" y="483.6" font-size="13.5">10000</text>
<text x="416.3" y="501.3" font-size="13.5">z</text>
<text x="431.6" y="501.3" font-size="13.5">10000</text>
<text x="100.9" y="243.9" font-size="15.4" text-anchor="end">1E-3</text>
<text x="100.9" y="337.1" font-size="15.4" text-anchor="end">1E-4</text>
<text x="100.9" y="430.4" font-size="15.4" text-anchor="end">1E-5</text>
<text x="100.9" y="523.6" font-size="15.4" text-anchor="end">1E-6</text>
<text x="108.1" y="540.6" font-size="15.8" text-anchor="middle">0.1</text>
<text x="227.1" y="540.6" font-size="15.8" text-anchor="middle">1</text>
<text x="347.0" y="540.6" font-size="15.8" text-anchor="middle">10</text>
<text x="466.0" y="540.6" font-size="15.8" text-anchor="middle">100</text>
<text x="279.6" y="561.2" font-size="17.6">E</text>
<text x="291.2" y="568.7" font-size="10.6">kin</text>
<text x="312.0" y="561.2" font-size="17.6">(GeV)</text>
<g transform="translate(58.3 388.8) rotate(-90)"><text x="0" y="0" font-size="19">p/p</text><rect x="0.2" y="-14.1" width="11.8" height="2.4"/></g>
</g>
<text x="273.8" y="240.4" font-size="20.2" fill="#000" stroke="#000" stroke-width="0.25" text-rendering="geometricPrecision">DC</text>
</svg>
</body></html>
